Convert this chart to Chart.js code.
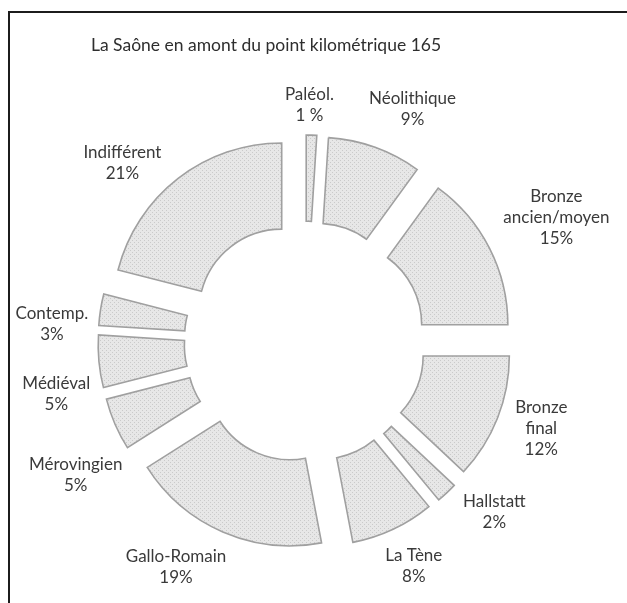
<!DOCTYPE html>
<html>
<head>
<meta charset="utf-8">
<script src="https://cdn.jsdelivr.net/npm/chart.js@4.4.1/dist/chart.umd.min.js"></script>
<style>
	html, body { margin: 0; padding: 0; background: #fff; }
	#wrap { position: relative; width: 627px; height: 603px; overflow: hidden; }
	#frame {
		position: absolute; left: 8px; top: 11px; right: -4px; bottom: -4px;
		border-top: 2px solid #1c1c1c; border-left: 2px solid #1c1c1c;
	}
	#chart { position: absolute; left: 0; top: 0; }
</style>
</head>
<body>
<div id="wrap">
	<div id="frame"></div>
	<canvas id="chart" width="627" height="603"></canvas>
</div>
<script>
(function () {
	/*global Chart */

	var titleText = 'La Saône en amont du point kilométrique 165';

	// Periods, clockwise from the top
	var periods = [
		['Paléol.'],
		['Néolithique'],
		['Bronze', 'ancien/moyen'],
		['Bronze', 'final'],
		['Hallstatt'],
		['La Tène'],
		['Gallo-Romain'],
		['Mérovingien'],
		['Médiéval'],
		['Contemp.'],
		['Indifférent']
	];
	var shares = [1, 9, 15, 12, 2, 8, 19, 5, 5, 3, 21];
	var shareTexts = ['1 %', '9%', '15%', '12%', '2%', '8%', '19%', '5%', '5%', '3%', '21%'];

	// Small hand adjustments of each label block, in px
	var labelNudge = [
		[-3, 0], [23, 2], [5, 1], [3, -6], [17, -13], [4, 1],
		[-28, -8], [15, 27], [1, 28], [-2, 22], [-26, 23]
	];

	var explode = 38;
	var labelFont = '17px Lato, "DejaVu Sans", sans-serif';
	var lineHeight = 21;

	// Light grey stipple used to fill every slice
	function stipple() {
		var c = document.createElement('canvas');
		c.width = 4;
		c.height = 4;
		var x = c.getContext('2d');
		x.fillStyle = '#e7e7e7';
		x.fillRect(0, 0, 4, 4);
		x.fillStyle = '#cacaca';
		x.fillRect(0, 0, 1, 1);
		x.fillRect(2, 2, 1, 1);
		return x.createPattern(c, 'repeat');
	}

	// Push each slice out from the centre along its middle angle
	var explodePlugin = {
		id: 'explodeSlices',
		afterDatasetsUpdate: function (chart) {
			var arcs = chart.getDatasetMeta(0).data;
			for (var i = 0; i < arcs.length; i++) {
				var mid = (arcs[i].startAngle + arcs[i].endAngle) / 2;
				arcs[i].x += Math.cos(mid) * explode;
				arcs[i].y += Math.sin(mid) * explode;
			}
		}
	};

	// Title and the name / share text beside each slice
	var textPlugin = {
		id: 'sliceText',
		afterDatasetsDraw: function (chart) {
			var ctx = chart.ctx;
			var arcs = chart.getDatasetMeta(0).data;
			ctx.save();
			ctx.textAlign = 'center';
			ctx.textBaseline = 'middle';

			ctx.fillStyle = '#2e2e2e';
			ctx.font = '17.5px Lato, "DejaVu Sans", sans-serif';
			ctx.fillText(titleText, 266, 45);

			ctx.fillStyle = '#3a3a3a';
			ctx.font = labelFont;
			for (var i = 0; i < arcs.length; i++) {
				var arc = arcs[i];
				var lines = periods[i].concat([shareTexts[i]]);
				var w = 0;
				for (var k = 0; k < lines.length; k++) {
					w = Math.max(w, ctx.measureText(lines[k]).width);
				}
				var h = lines.length * lineHeight;
				var mid = (arc.startAngle + arc.endAngle) / 2;
				var dx = Math.cos(mid), dy = Math.sin(mid);
				var reach = Math.abs(dx) * w / 2 + Math.abs(dy) * h / 2;
				var d = arc.outerRadius + 8 + reach;
				var x = arc.x + dx * d + labelNudge[i][0];
				var y = arc.y + dy * d + labelNudge[i][1] - h / 2 + lineHeight / 2;
				for (k = 0; k < lines.length; k++) {
					ctx.fillText(lines[k], x, y + k * lineHeight);
				}
			}
			ctx.restore();
		}
	};

	var ctx = document.getElementById('chart').getContext('2d');
	new Chart(ctx, {
		type: 'doughnut',
		data: {
			labels: periods.map(function (p) { return p.join(' '); }),
			datasets: [
				{
					data: shares,
					backgroundColor: stipple(),
					borderColor: '#a0a0a0',
					borderWidth: 1.6,
					borderJoinStyle: 'miter',
					offset: 0,
					hoverOffset: 0
				}
			]
		},
		options: {
			responsive: false,
			animation: false,
			events: [],
			radius: 169,
			cutout: '49%',
			layout: {
				padding: { left: 0, right: 17, top: 81, bottom: 0 }
			},
			plugins: {
				legend: { display: false },
				tooltip: { enabled: false },
				title: { display: false }
			}
		},
		plugins: [explodePlugin, textPlugin]
	});
})();
</script>
</body>
</html>
